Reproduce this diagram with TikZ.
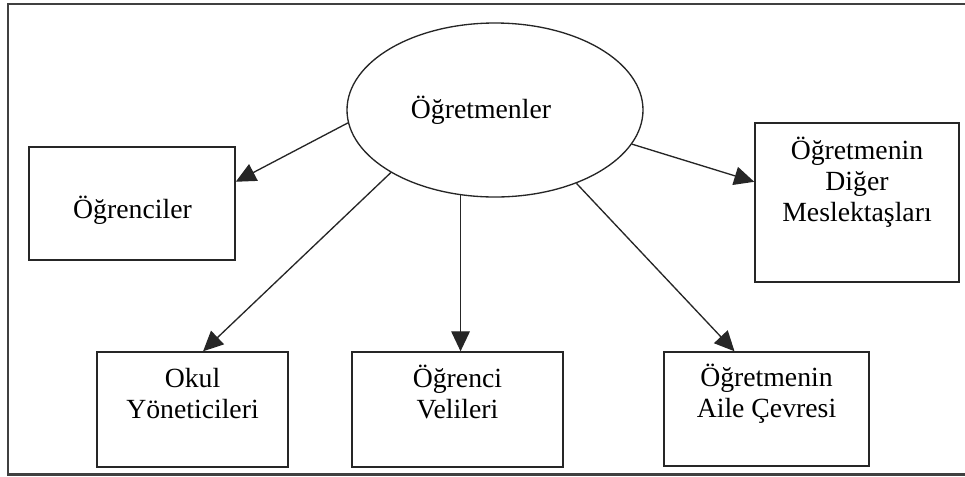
\documentclass[tikz,border=0pt]{standalone}
\usepackage{fontspec}
\setmainfont{Liberation Serif}
\usetikzlibrary{arrows.meta,calc,shapes.geometric}
\tikzset{
  boxnode/.style={draw=black!85, line width=1.1pt, rectangle, inner sep=0pt},
  txt/.style={inner sep=0pt, align=center, anchor=base, font=\fontsize{20.8}{23.2}\selectfont},
  conn/.style={draw=black!85, line width=1pt, -{Triangle[length=15pt,width=14pt]}},
}
\begin{document}
\begin{tikzpicture}[x=0.75pt,y=-0.75pt]
\useasboundingbox (0,0) rectangle (965,476);
% outer frame (right side lies beyond the picture)
\draw[black!75, line width=1.6pt] (975,4) -- (8,4) -- (8,474.5) -- (975,474.5);

% central ellipse
\node[draw=black!85, line width=1pt, ellipse, inner sep=0pt,
      minimum width=222pt, minimum height=130.5pt] (ell) at (495,110) {};
\node[txt] (ellt) at (481,118) {Öğretmenler};

% boxes
\node[boxnode, minimum width=154.5pt, minimum height=84.75pt] (ogr) at (132,203.5) {};
\node[txt] (ogrt) at (132.5,218) {Öğrenciler};

\node[boxnode, minimum width=153pt, minimum height=119.25pt] (mes) at (857,202.5) {};
\node[txt] (mest) at (857,221) {Öğretmenin\\Diğer\\Meslektaşları};

\node[boxnode, minimum width=143.25pt, minimum height=86.25pt] (okul) at (192.5,409.5) {};
\node[txt] (okult) at (192.5,418.5) {Okul\\Yöneticileri};

\node[boxnode, minimum width=158.25pt, minimum height=86.25pt] (veli) at (457.5,409.5) {};
\node[txt] (velit) at (457.5,418.5) {Öğrenci\\Velileri};

\node[boxnode, minimum width=153.75pt, minimum height=85.5pt] (aile) at (766.5,409) {};
\node[txt] (ailet) at (766.5,417.5) {Öğretmenin\\Aile Çevresi};

% connectors
\draw[conn] (ell.185.8) -- ($(ogr.north east)!0.31!(ogr.south east)$);
\draw[conn] (ell.211.7) -- ($(okul.north west)!0.555!(okul.north east)$);
\draw[conn] (ell.248) -- (ell.248 |- veli.north);
\draw[conn] (ell.318.1) -- ($(aile.north west)!0.345!(aile.north east)$);
\draw[conn] (ell.346.7) -- ($(mes.north west)!0.371!(mes.south west)$);
\end{tikzpicture}
\end{document}
